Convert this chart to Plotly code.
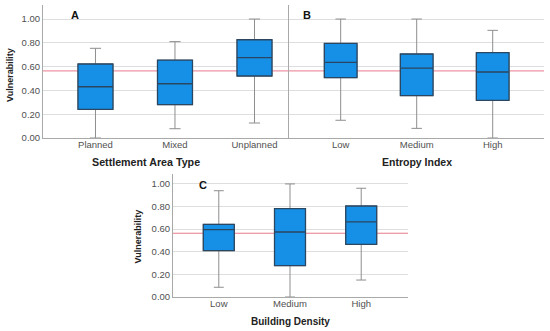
import plotly.graph_objects as go

W, H = 550, 331

# ---------------- data ----------------
area_types = ["Planned", "Mixed", "Unplanned"]
area_min = [0.0, 0.078, 0.126]
area_q1 = [0.241, 0.280, 0.521]
area_med = [0.431, 0.456, 0.675]
area_q3 = [0.622, 0.655, 0.826]
area_max = [0.754, 0.810, 1.0]

entropy_levels = ["Low", "Medium", "High"]
ent_min = [0.149, 0.081, 0.0]
ent_q1 = [0.507, 0.356, 0.317]
ent_med = [0.636, 0.588, 0.555]
ent_q3 = [0.795, 0.706, 0.717]
ent_max = [1.0, 1.0, 0.905]

density_levels = ["Low", "Medium", "High"]
den_min = [0.086, 0.0, 0.150]
den_q1 = [0.410, 0.277, 0.466]
den_med = [0.596, 0.575, 0.664]
den_q3 = [0.643, 0.781, 0.805]
den_max = [0.940, 1.0, 0.962]

mean_vulnerability = 0.564
y_ticks = [0.0, 0.2, 0.4, 0.6, 0.8, 1.0]
y_tick_text = ["%.2f" % v for v in y_ticks]

# ---------------- style ----------------
FONT = "Liberation Sans, Arial, Helvetica, sans-serif"
BOX_FILL = "#1590e6"
BOX_EDGE = "#2b4660"
WHISKER = "#8e8e8e"
GRID = "#dedede"
AXLINE = "#a9a9a9"
MEAN_LINE = "#e8798a"
TICKFONT = dict(family=FONT, size=9.5, color="#505050")

fig = go.Figure()


def px_x(p):
    return p / W


def px_y(p):
    return 1 - p / H


panels = [
    (area_types, area_min, area_q1, area_med, area_q3, area_max, "", (43, 289), (5, 138), (-0.66, 2.434), (0, 1.118), True, 0.44),
    (entropy_levels, ent_min, ent_q1, ent_med, ent_q3, ent_max, "2", (289, 544), (5, 138), (-0.68, 2.675), (0, 1.118), False, 0.43),
    (density_levels, den_min, den_q1, den_med, den_q3, den_max, "3", (173, 408), (174, 297), (-0.643, 2.657), (0, 1.088), True, 0.435),
]

layout_axes = {}
for cats, mn, q1, med, q3, mx, sfx, xd, yd, xr, yr, showy, bw in panels:
    xs = list(range(len(cats)))
    xa = "x" + sfx
    ya = "y" + sfx
    fig.add_trace(go.Box(
        x=xs, q1=q1, median=med, q3=q3, lowerfence=mn, upperfence=mx,
        fillcolor=BOX_FILL, line=dict(color=WHISKER, width=1),
        width=bw, whiskerwidth=0.32, xaxis=xa, yaxis=ya,
        hoverinfo="skip", showlegend=False,
    ))
    fig.add_trace(go.Box(
        x=xs, q1=q1, median=med, q3=q3, lowerfence=q1, upperfence=q3,
        fillcolor=BOX_FILL, line=dict(color=BOX_EDGE, width=1.3),
        width=bw, whiskerwidth=0, xaxis=xa, yaxis=ya,
        hoverinfo="skip", showlegend=False,
    ))
    fig.add_shape(type="line", xref=xa + " domain", yref=ya,
                  x0=0, x1=1, y0=mean_vulnerability, y1=mean_vulnerability,
                  line=dict(color=MEAN_LINE, width=1), layer="below")

    layout_axes["xaxis" + sfx] = dict(
        domain=[px_x(xd[0]), px_x(xd[1])], range=list(xr),
        tickvals=xs, ticktext=cats, tickfont=TICKFONT,
        showgrid=False, zeroline=False, showline=True, linecolor=AXLINE, linewidth=1,
        anchor=ya, fixedrange=True, ticks="", automargin=False,
        ticklabelstandoff=-2,
    )
    layout_axes["yaxis" + sfx] = dict(
        domain=[px_y(yd[1]), px_y(yd[0])], range=list(yr),
        tickvals=y_ticks, ticktext=y_tick_text if showy else [""] * len(y_ticks),
        showticklabels=showy, tickfont=TICKFONT,
        showgrid=True, gridcolor=GRID, gridwidth=1, zeroline=False,
        showline=True, linecolor=AXLINE, linewidth=1,
        anchor=xa, fixedrange=True, ticks="", automargin=False,
    )

annotations = []


def ann(text, x, y, size, angle=0, bold=True, color="#222222"):
    annotations.append(dict(
        text=("<b>%s</b>" % text) if bold else text,
        x=px_x(x), y=px_y(y), xref="paper", yref="paper",
        xanchor="center", yanchor="middle", showarrow=False, textangle=angle,
        font=dict(family=FONT, size=size, color=color),
    ))


ann("Vulnerability", 10, 75, 9, angle=-90)
ann("Settlement Area Type", 146, 162, 10.7)
ann("Entropy Index", 417, 162, 10.5)
ann("Building Density", 290.5, 321, 10)
ann("Vulnerability", 137, 236.5, 9, angle=-90)
ann("A", 75, 15, 11, color="#111111")
ann("B", 307, 15, 11, color="#111111")
ann("C", 203, 185, 11, color="#111111")

fig.update_layout(
    width=W, height=H,
    margin=dict(l=0, r=0, t=0, b=0, autoexpand=False),
    paper_bgcolor="white", plot_bgcolor="white",
    boxmode="overlay",
    annotations=annotations,
    font=dict(family=FONT),
    **layout_axes,
)

fig.write_html(
    "out.html",
    config=dict(displayModeBar=False, staticPlot=True),
    post_script="document.body.style.margin='0';document.body.style.padding='0';",
)
